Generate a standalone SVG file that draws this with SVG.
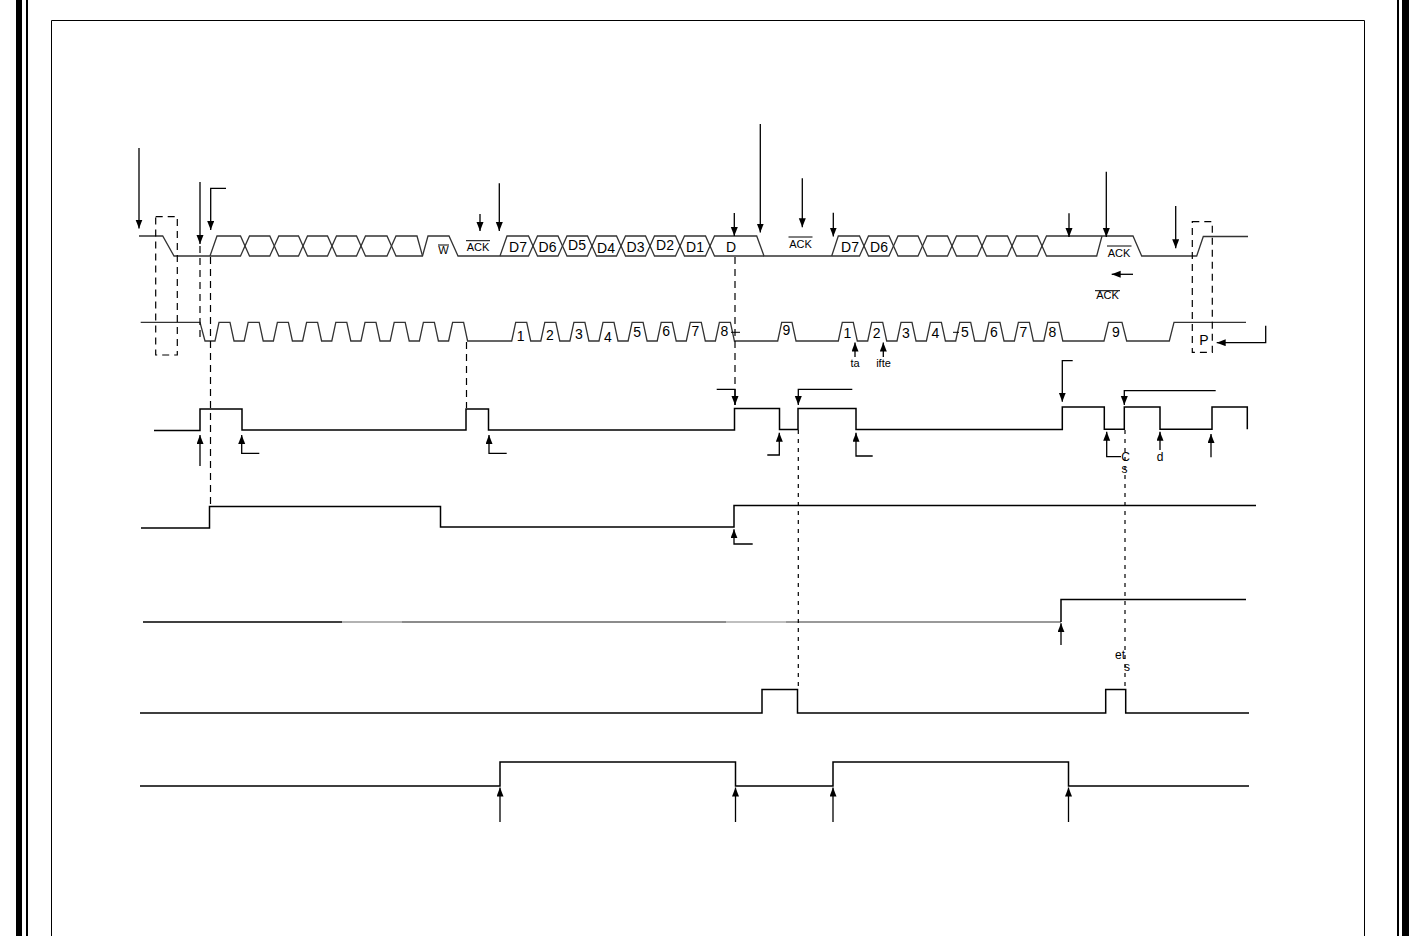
<svg xmlns="http://www.w3.org/2000/svg" width="1411" height="936" viewBox="0 0 1411 936">
<defs>
<marker id="ah" markerUnits="userSpaceOnUse" markerWidth="10" markerHeight="8" refX="9" refY="3.5" orient="auto"><path d="M0,0 L9,3.5 L0,7 z" fill="#000"/></marker>
<style>
.bus{fill:none;stroke:#333;stroke-width:1.3;stroke-linejoin:miter}
.sig{fill:none;stroke:#000;stroke-width:1.5}
.arr{fill:none;stroke:#000;stroke-width:1.3;marker-end:url(#ah)}
.dash{fill:none;stroke:#000;stroke-width:1.2;stroke-dasharray:7,5}
.dot{fill:none;stroke:#000;stroke-width:1.2;stroke-dasharray:4,5}
.ol{stroke:#000;stroke-width:1}
.t{font-family:"Liberation Sans",Arial,sans-serif;fill:#000;text-anchor:middle}
.s11{font-size:11px}.s12{font-size:12px}.s14{font-size:14px}
</style>
</defs>
<rect width="1411" height="936" fill="#fff"/>
<g id="frame">
<rect x="16" y="0" width="6" height="936" fill="#000"/>
<rect x="26" y="0" width="2" height="936" fill="#000"/>
<rect x="1397" y="0" width="2" height="936" fill="#000"/>
<rect x="1402" y="0" width="7" height="936" fill="#000"/>
<path d="M51.5,940 V20.5 H1364.5 V940" fill="none" stroke="#000" stroke-width="1"/>
</g>
<g id="sda">
<path class="bus" d="M139,236 H162.7 L174,256 H240.5 L249.5,236 H269.8 L278.8,256 H298.5 L307.5,236 H327.5 L336.5,256 H356.5 L365.5,236 H387 L396,256 H422.5 L428,236 H449 L458,256 H528.5 L537.5,236 H558 L567,256 H587.5 L596.5,236 H616.5 L625.5,256 H645.5 L654.5,236 H675.5 L684.5,256 H705.5 L714.5,236 H756.7 L764,256 H859.5 L868.5,236 H889 L898,256 H918 L927,236 H947.5 L956.5,256 H977.5 L986.5,236 H1007.5 L1016.5,256 H1037.5 L1046.5,236 H1133 L1141.7,256 H1196.7 L1203.3,236.5 H1248"/>
<path class="bus" d="M210,256 L217,236 H240.5 L249.5,256 H269.8 L278.8,236 H298.5 L307.5,256 H327.5 L336.5,236 H356.5 L365.5,256 H387 L396,236 H417 L422.5,256"/>
<path class="bus" d="M500,256 L507,236 H528.5 L537.5,256 H558 L567,236 H587.5 L596.5,256 H616.5 L625.5,236 H645.5 L654.5,256 H675.5 L684.5,236 H705.5 L714.5,256 H764"/>
<path class="bus" d="M831.7,256 L838.3,236 H859.5 L868.5,256 H889 L898,236 H918 L927,256 H947.5 L956.5,236 H977.5 L986.5,256 H1007.5 L1016.5,236 H1037.5 L1046.5,256 H1096.7 L1102,236"/>
<text class="t s11" x="443.5" y="254">W</text><line class="ol" x1="438" y1="245" x2="449" y2="245"/>
<text class="t s11" x="478" y="251">ACK</text><line class="ol" x1="466" y1="240.7" x2="490" y2="240.7"/>
<text class="t s14" x="518" y="252">D7</text>
<text class="t s14" x="547.5" y="252">D6</text>
<text class="t s14" x="577" y="250">D5</text>
<text class="t s14" x="606" y="253">D4</text>
<text class="t s14" x="635.5" y="252">D3</text>
<text class="t s14" x="665" y="250">D2</text>
<text class="t s14" x="695" y="252">D1</text>
<text class="t s14" x="731" y="252">D</text>
<text class="t s11" x="800.5" y="247.5">ACK</text><line class="ol" x1="788.5" y1="237" x2="812.5" y2="237"/>
<text class="t s14" x="850" y="252">D7</text>
<text class="t s14" x="879" y="252">D6</text>
<text class="t s11" x="1119" y="257">ACK</text><line class="ol" x1="1107" y1="246" x2="1131.5" y2="246"/>
<text class="t s11" x="1107.5" y="298.5">ACK</text><line class="ol" x1="1095" y1="290.7" x2="1120" y2="290.7"/>
</g>
<g id="scl">
<path class="bus" d="M140.7,322.3 H200 L205,341 H215 L219,322.3 H230 L234,341 H244.2 L248.2,322.3 H259.2 L263.2,341 H273.4 L277.4,322.3 H288.4 L292.4,341 H302.6 L306.6,322.3 H317.6 L321.6,341 H331.8 L335.8,322.3 H346.8 L350.8,341 H361 L365,322.3 H376 L380,341 H390.2 L394.2,322.3 H405.2 L409.2,341 H419.4 L423.4,322.3 H434.4 L438.4,341 H448.6 L452.6,322.3 H463.6 L467.6,341 H511.7 L515.7,322.3 H526.7 L530.7,341 H540.8 L544.8,322.3 H555.8 L559.8,341 H569.9 L573.9,322.3 H584.9 L588.9,341 H599 L603,322.3 H614 L618,341 H628.1 L632.1,322.3 H643.1 L647.1,341 H657.2 L661.2,322.3 H672.2 L676.2,341 H686.3 L690.3,322.3 H701.3 L705.3,341 H715.4 L719.4,322.3 H730.4 L734.4,341 H777.7 L781.7,322.3 H792 L796,341 H838.3 L842.3,322.3 H853.3 L857.3,341 H867.7 L871.7,322.3 H882.7 L886.7,341 H897 L901,322.3 H912 L916,341 H926.4 L930.4,322.3 H941.4 L945.4,341 H955.7 L959.7,322.3 H970.7 L974.7,341 H985 L989,322.3 H1000 L1004,341 H1014.4 L1018.4,322.3 H1029.4 L1033.4,341 H1043.8 L1047.8,322.3 H1058.8 L1062.8,341 H1104 L1108.5,322.3 H1122 L1126.7,341 H1169.3 L1174,322.3 H1246"/>
<line class="ol" x1="731" y1="332.3" x2="740" y2="332.3"/>
<line class="ol" x1="953" y1="332.3" x2="959" y2="332.3"/>
<g class="t s14">
<text x="520.7" y="340.5">1</text><text x="549.8" y="340">2</text><text x="578.9" y="338.5">3</text><text x="608" y="341.5">4</text><text x="637.1" y="336.5">5</text><text x="666.2" y="336">6</text><text x="695.3" y="336">7</text><text x="724.4" y="336">8</text>
<text x="786.5" y="335">9</text>
<text x="847.5" y="338">1</text><text x="876.7" y="338">2</text><text x="906" y="337.5">3</text><text x="935.4" y="338">4</text><text x="965" y="337">5</text><text x="994" y="337">6</text><text x="1023.4" y="337">7</text><text x="1052.5" y="337">8</text>
<text x="1116" y="337">9</text>
<text x="1204" y="345">P</text>
</g>
<text class="t s11" x="855" y="366.5">ta</text>
<text class="t s11" x="883.5" y="366.5">ifte</text>
</g>
<g id="signal3">
<path class="sig" d="M154,430.5 H200 V409 H242 V430 H466 V409 H488.5 V430 H734.5 V408.5 H779.5 V429.5 H798 V408.5 H856 V429.5 H1062.3 V407 H1104.3 V429.3 H1124.3 V407 H1160 V429.3 H1212 V407 H1247.3 V429.3"/>
<text class="t s12" x="1125.5" y="461">C</text>
<text class="t s12" x="1124.5" y="472.5">s</text>
<text class="t s12" x="1160" y="461">d</text>
</g>
<g id="signal4">
<path class="sig" d="M141,528 H209.5 V506.5 H440.5 V527 H734 V505.5 H1256"/>
</g>
<g id="signal5">
<path fill="none" stroke="#000" stroke-width="1.5" d="M143,622 H342"/>
<path fill="none" stroke="#999" stroke-width="1.5" d="M342,622 H402"/>
<path fill="none" stroke="#666" stroke-width="1.5" d="M402,622 H726"/>
<path fill="none" stroke="#aaa" stroke-width="1.5" d="M726,622 H786"/>
<path fill="none" stroke="#777" stroke-width="1.5" d="M786,622 H1061"/>
<path class="sig" d="M1061,622 V599.5 H1246"/>
</g>
<g id="signal6">
<path class="sig" d="M140,713 H762 V689.5 H797.5 V713 H1105.7 V689.5 H1125.7 V713 H1249"/>
<text class="t s12" x="1120" y="659">et</text>
<text class="t s12" x="1127" y="671">s</text>
</g>
<g id="signal7">
<path class="sig" d="M140,786 H500 V762 H735.5 V786 H833 V762 H1068.5 V786 H1249"/>
</g>
<g id="guides">
<rect class="dash" x="155.7" y="216.7" width="21.6" height="138.3"/>
<rect class="dash" x="1192.3" y="221.7" width="20" height="130.6"/>
<line class="dash" x1="200" y1="246" x2="200" y2="340"/>
<line class="dash" x1="210.5" y1="257" x2="210.5" y2="506"/>
<line class="dash" x1="466.5" y1="342" x2="466.5" y2="408"/>
<line class="dash" x1="735" y1="257" x2="735" y2="405"/>
<line class="dot" x1="798.3" y1="430" x2="798.3" y2="689"/>
<line class="dot" x1="1125" y1="430" x2="1125" y2="689"/>
</g>
<g id="connectors">
<line class="arr" x1="139" y1="148" x2="139" y2="228.5"/>
<line class="arr" x1="200" y1="182" x2="200" y2="244"/>
<polyline class="arr" points="226,188.3 210.7,188.3 210.7,230"/>
<line class="arr" x1="480" y1="214" x2="480" y2="231"/>
<line class="arr" x1="499.3" y1="183.3" x2="499.3" y2="231"/>
<line class="arr" x1="734.3" y1="213" x2="734.3" y2="236"/>
<line class="arr" x1="760.3" y1="124" x2="760.3" y2="232.5"/>
<line class="arr" x1="802.3" y1="178.3" x2="802.3" y2="227.3"/>
<line class="arr" x1="833.3" y1="212.7" x2="833.3" y2="236.5"/>
<line class="arr" x1="1069" y1="213.3" x2="1069" y2="237"/>
<line class="arr" x1="1106.3" y1="171.7" x2="1106.3" y2="237"/>
<line class="arr" x1="1175.7" y1="206" x2="1175.7" y2="248.3"/>
<line class="arr" x1="1133" y1="274.3" x2="1111.7" y2="274.3"/>
<polyline class="arr" points="1265.7,325.7 1265.7,342.7 1216.7,342.7"/>
<line class="arr" x1="855" y1="357" x2="855" y2="342.5"/>
<line class="arr" x1="883.3" y1="357" x2="883.3" y2="342.5"/>
<line class="arr" x1="200" y1="466" x2="200" y2="435"/>
<polyline class="arr" points="259.3,453.3 241.7,453.3 241.7,435"/>
<polyline class="arr" points="506.7,453.3 489,453.3 489,435"/>
<polyline class="arr" points="716.7,389.3 735,389.3 735,405"/>
<polyline class="arr" points="767.3,455 779.3,455 779.3,432.7"/>
<polyline class="arr" points="852.3,389.3 798.3,389.3 798.3,405"/>
<polyline class="arr" points="872.7,456 856,456 856,432.7"/>
<polyline class="arr" points="1072.7,360.7 1062.3,360.7 1062.3,401.7"/>
<polyline class="arr" points="1215.7,390.7 1124.3,390.7 1124.3,405"/>
<polyline class="arr" points="1121,456.7 1106.7,456.7 1106.7,431.7"/>
<line class="arr" x1="1160" y1="450" x2="1160" y2="431.7"/>
<line class="arr" x1="1211" y1="457.3" x2="1211" y2="434"/>
<polyline class="arr" points="752.7,544 734,544 734,529.3"/>
<line class="arr" x1="1061" y1="645" x2="1061" y2="623.3"/>
<line class="arr" x1="500" y1="822" x2="500" y2="787.5"/>
<line class="arr" x1="735.5" y1="822" x2="735.5" y2="787.5"/>
<line class="arr" x1="833" y1="822" x2="833" y2="787.5"/>
<line class="arr" x1="1068.5" y1="822" x2="1068.5" y2="787.5"/>
</g>
</svg>
